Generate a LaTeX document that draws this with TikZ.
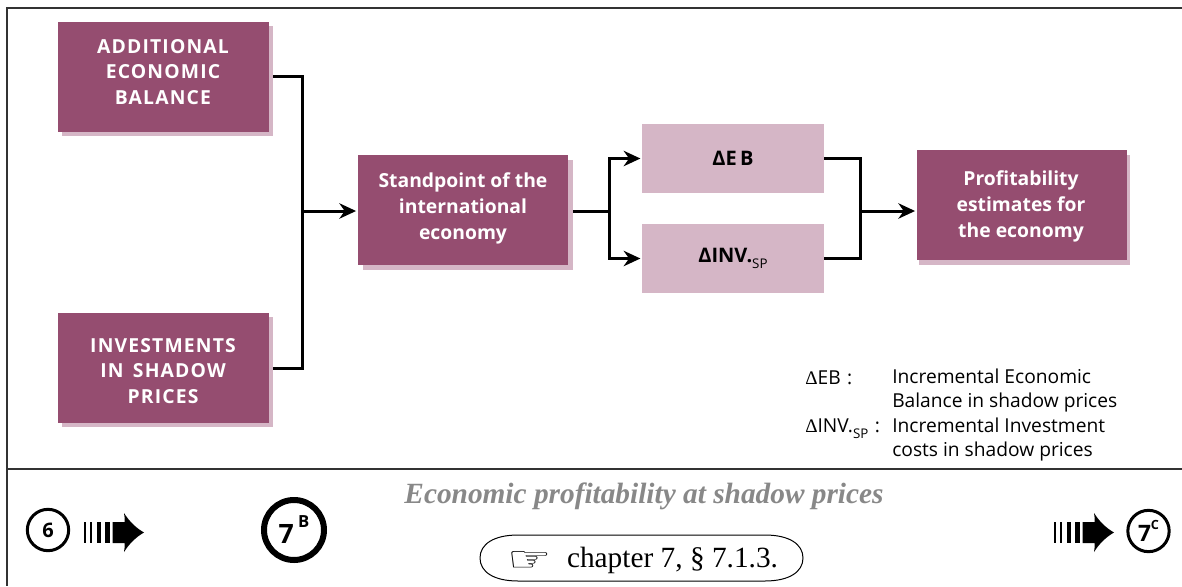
\documentclass[tikz,border=0pt]{standalone}
\usepackage{fontspec}
\setmainfont{Liberation Serif}
\newfontfamily\uifont{Open Sans}
\newfontfamily\capsfont[LetterSpace=6]{Open Sans}
\newfontfamily\dejafont{DejaVu Sans}
\usetikzlibrary{arrows.meta,backgrounds,calc}
\definecolor{plumdark}{HTML}{954D70}
\definecolor{plumlight}{HTML}{D5B6C6}
\definecolor{titlegray}{HTML}{888888}
\definecolor{framegray}{HTML}{333333}
\newcommand{\pxfont}[2]{\fontsize{#1}{#2}\selectfont}
\newcommand{\subsp}{\raisebox{-4.5pt}{\pxfont{10}{10}\uifont\mdseries SP}}
\tikzset{
  x=0.75pt,y=-0.75pt,
  darkbox/.style={fill=plumdark,text=white,align=center,inner sep=0pt,minimum width=158pt,minimum height=82.5pt},
  boxshadow/.style={fill=plumlight,inner sep=0pt,minimum width=158pt,minimum height=82.5pt},
  lightbox/.style={fill=plumlight,text=black,align=center,inner sep=0pt,minimum width=136.5pt,minimum height=51.75pt},
  boxtext/.style={align=center,text=white,inner sep=0pt},
  conn/.style={line width=2.25pt,draw=black,line join=miter},
  arrowconn/.style={conn,shorten >=1pt,-{Stealth[length=12.5pt,width=11.5pt,inset=4pt]}},
  capslabel/.style={boxtext,font=\pxfont{14.5}{19.3}\capsfont\bfseries},
  boldlabel/.style={boxtext,font=\pxfont{14.5}{19.5}\uifont\bfseries},
  legendtext/.style={font=\pxfont{14.4}{18.1}\uifont,align=left,inner sep=0pt,anchor=north west,text=black},
  frameline/.style={line width=1.5pt,draw=framegray},
  stepcircle/.style={circle,draw=black,fill=white,inner sep=0pt,font=\uifont\bfseries},
}
\newcommand{\stripedarrow}[1]{%
  \begin{scope}[shift={(#1,0)}]
    \fill (84,522) rectangle (86,543);
    \fill (90,522) rectangle (92,543);
    \fill (96.5,522) rectangle (101,543);
    \fill (104.5,522) rectangle (110,543);
    \fill (112.5,522) -- (124.5,522) .. controls (125,519) and (124.5,516) .. (124,513) .. controls (129,521) and (136,528) .. (144,532.5) .. controls (136,537) and (129,544) .. (124,552) .. controls (124.5,549) and (125,546) .. (124.5,543) -- (112.5,543) -- cycle;
  \end{scope}}
\begin{document}
\begin{tikzpicture}
\useasboundingbox (0,0) rectangle (1182,586);
\begin{scope}[on background layer]
  \fill[white] (0,0) rectangle (1182,586);
\end{scope}
% frame
\draw[frameline] (1182,7.5) -- (6.5,7.5) -- (6.5,586);
\draw[frameline] (6.5,469) -- (1182,469);
% shadows and boxes
\node[boxshadow] (ashadow) at (167.5,80.5) {};
\node[darkbox] (a) at (163.5,76.5) {};
\node[capslabel] (atext) at (163,72) {ADDITIONAL\\ECONOMIC\\BALANCE};
\node[boxshadow] (bshadow) at (167.5,372) {};
\node[darkbox] (b) at (163.5,368) {};
\node[capslabel] (btext) at (163,371) {INVESTMENTS\\IN \,SHADOW\\PRICES};
\node[boxshadow] (cshadow) at (468,215) {};
\node[darkbox] (c) at (463,210) {};
\node[boldlabel] (ctext) at (463,208) {Standpoint of the\\international\\economy};
\node[lightbox,font=\pxfont{15}{19}\uifont\bfseries] (d) at (733,158.5) {ΔE\,B};
\node[lightbox,font=\pxfont{15}{19}\uifont\bfseries] (e) at (733,258.5) {\raisebox{-1.5pt}{ΔINV.\subsp}};
\node[boxshadow] (fshadow) at (1024.5,210) {};
\node[darkbox] (f) at (1022,205) {};
\node[boldlabel] (ftext) at (1021,206.5) {Profitability\\estimates for\\the economy};
% connectors
\coordinate (j1) at (302,211);
\coordinate (j2) at (609,211);
\coordinate (j3) at (860,211);
\begin{scope}[on background layer]
  \draw[conn] (a.east) -| (j1);
  \draw[conn] (b.east) -| (j1);
  \draw[conn] (c.east |- j2) -- (j2);
  \draw[conn] (d.east) -| (j3);
  \draw[conn] (e.east) -| (j3);
\end{scope}
\draw[arrowconn] (j1) -- (c.west |- j1);
\draw[arrowconn] (j2) |- (d.west);
\draw[arrowconn] (j2) |- (e.west);
\draw[arrowconn] (j3) -- (f.west |- j3);
% legend
\node[legendtext] (l1) at (805,371) {{\fontspec{Liberation Serif}Δ}EB\,\,:};
\node[legendtext] (l2) at (805,419) {{\fontspec{Liberation Serif}Δ}INV.\subsp\,\,:};
\node[legendtext] (l3) at (892,369) {Incremental Economic\\Balance in shadow prices\\Incremental Investment\\costs in shadow prices};
% bottom
\node[stepcircle,line width=2.25pt,minimum size=31pt,font=\pxfont{15}{17}\uifont\bfseries] (s6) at (48,530) {6};
\stripedarrow{0}
\node[stepcircle,line width=4.5pt,minimum size=45pt,font=\pxfont{20}{24}\uifont\bfseries] (s7b) at (294,530) {7\,\raisebox{1.1ex}{\pxfont{12.5}{14}B}};
\stripedarrow{970}
\node[stepcircle,line width=2.25pt,minimum size=31pt,font=\pxfont{17}{20}\uifont\bfseries] (s7c) at (1148.5,531) {7\raisebox{1ex}{\pxfont{9.5}{11}C}};
\node[font=\pxfont{22}{24}\bfseries\itshape,text=titlegray,inner sep=0pt] (title) at (644,496) {Economic profitability at shadow prices};
\node[inner sep=0pt,font=\pxfont{22}{24}] (reftext) at (672.5,560) {chapter 7, § 7.1.3.};
\node[inner sep=0pt,font=\dejafont\pxfont{24}{24},xscale=1.55,yscale=1.1] (hand) at (530,561) {☞};
\draw[line width=0.75pt] (480,558) .. controls (480,544) and (494,535) .. (518,535) -- (765,535) .. controls (789,535) and (803,544) .. (803,558) .. controls (803,572) and (789,581) .. (765,581) -- (518,581) .. controls (494,581) and (480,572) .. (480,558) -- cycle;
\end{tikzpicture}
\end{document}
